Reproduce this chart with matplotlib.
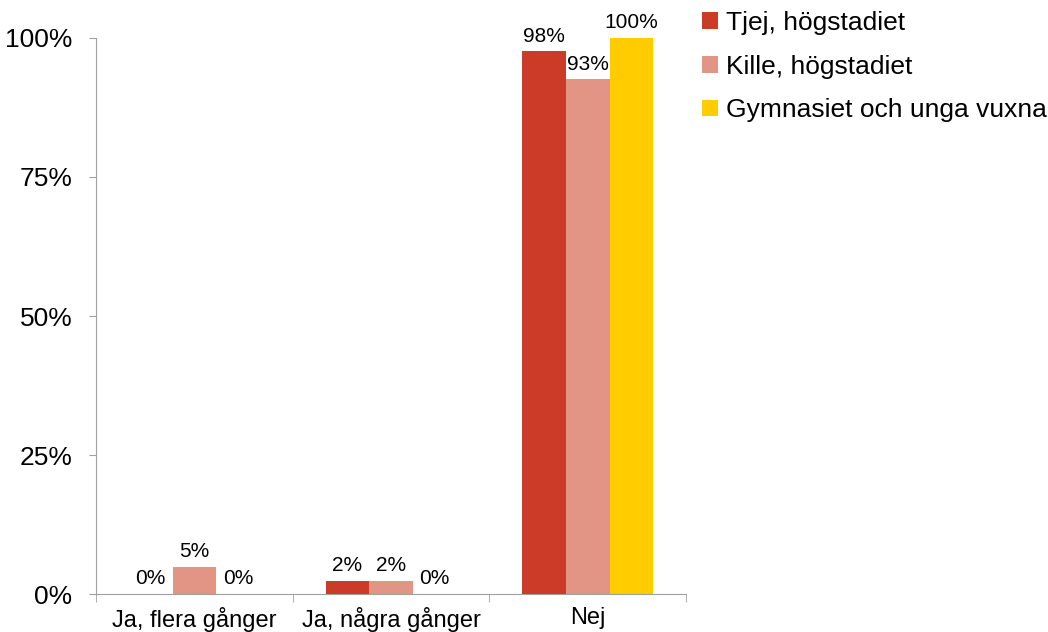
import numpy as np
import matplotlib
matplotlib.use("Agg")
import matplotlib.pyplot as plt
from matplotlib.ticker import FuncFormatter

plt.rcParams['font.family'] = ['Liberation Sans', 'DejaVu Sans']

categories = ["Ja, flera gånger", "Ja, några gånger", "Nej"]
series_names = ["Tjej, högstadiet", "Kille, högstadiet", "Gymnasiet och unga vuxna"]
tjej = [0.0, 2.4, 97.6]
kille = [4.9, 2.4, 92.6]
gymnasiet = [0.0, 0.0, 100.0]
colors = ["#CC3A28", "#E39585", "#FFCC00"]

fig = plt.figure(figsize=(10.48, 6.32), dpi=100)
ax = fig.add_axes([0.0916, 0.0601, 0.5630, 0.8798])

x = np.arange(len(categories))
w = 0.222
for i, (vals, name, c) in enumerate(zip([tjej, kille, gymnasiet], series_names, colors)):
    pos = x + (i - 1) * w
    bars = ax.bar(pos, vals, width=w, color=c, label=name, edgecolor="none")
    for b, v in zip(bars, vals):
        ax.text(b.get_x() + b.get_width() / 2, v + 1.0, f"{v:.0f}%",
                ha="center", va="bottom", fontsize=15)

ax.set_xlim(-0.5, 2.5)
ax.set_ylim(0, 100)
ax.set_yticks([0, 25, 50, 75, 100])
ax.yaxis.set_major_formatter(FuncFormatter(lambda v, p: f"{v:.0f}%"))
ax.tick_params(axis="y", labelsize=19, length=5, color="#A0A0A0", direction="out", pad=12)
ax.set_xticks(x)
ax.set_xticklabels(categories, fontsize=17)
ax.set_xticks([-0.5, 0.5, 1.5, 2.5], minor=True)
ax.tick_params(axis="x", which="major", length=0, pad=9)
ax.tick_params(axis="x", which="minor", length=6, color="#A0A0A0")
for s in ["top", "right"]:
    ax.spines[s].set_visible(False)
for s in ["left", "bottom"]:
    ax.spines[s].set_color("#A0A0A0")

ax.legend(loc="upper left", bbox_to_anchor=(1.01, 1.068), frameon=False,
          fontsize=19, handlelength=0.6, handleheight=0.6, handletextpad=0.3,
          labelspacing=0.75, borderaxespad=0)

fig.savefig("out.png", dpi=100)
